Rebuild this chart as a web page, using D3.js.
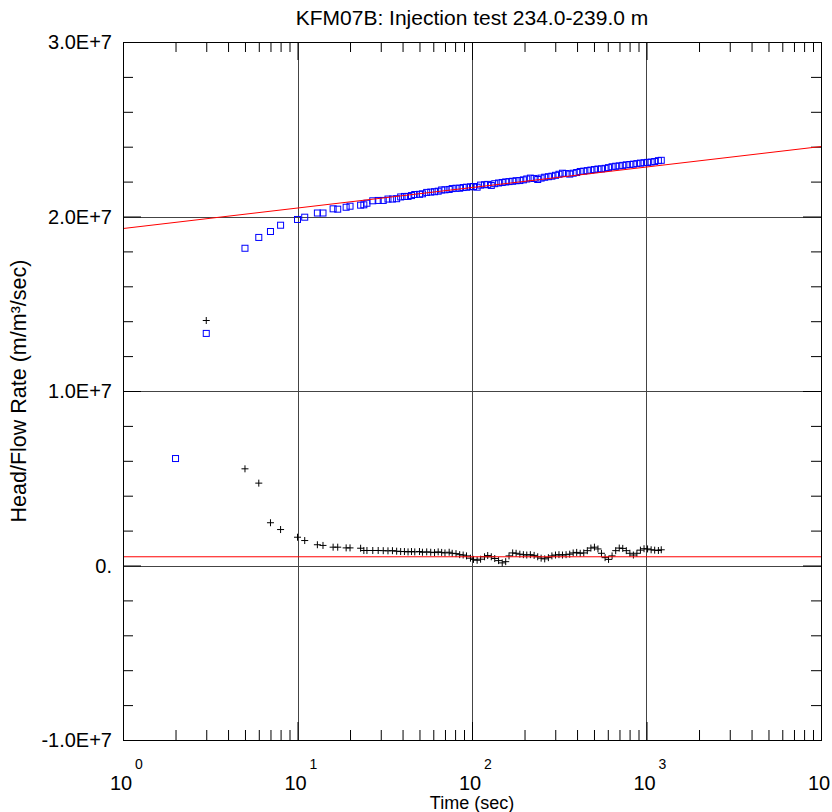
<!DOCTYPE html>
<html>
<head>
<meta charset="utf-8">
<script src="https://cdn.jsdelivr.net/npm/d3@7"></script>
<style>
  body { margin: 0; background: #fff; }
  text { font-family: "Liberation Sans", Arial, sans-serif; fill: #000; }
</style>
</head>
<body>
<div id="root"></div>
<script>
// sample times (sec), shared by both measured series
const times = [2, 3, 5, 6, 7, 8, 10, 11, 13, 14,
  16, 17, 19, 20, 23, 24, 25, 27, 29, 31,
  33, 35, 37, 39, 41, 43, 45, 47, 50, 52,
  55, 58, 61, 64, 67, 70, 74, 77, 81, 85,
  89, 93, 98, 102, 107, 112, 118, 123, 129, 135,
  142, 149, 156, 163, 171, 179, 188, 197, 206, 216,
  227, 238, 249, 261, 274, 287, 301, 315, 330, 346,
  363, 380, 398, 417, 437, 458, 480, 503, 527, 552,
  579, 606, 635, 666, 698, 731, 766, 803, 841, 881,
  923, 968, 1014, 1063, 1114, 1170, 1215];

// head / flow rate, millions of m/m3/sec (blue squares)
const headValues = [6.13, 13.3, 18.18, 18.8, 19.14, 19.5, 19.83, 19.96, 20.2, 20.2,
  20.44, 20.42, 20.53, 20.59, 20.65, 20.67, 20.76, 20.9, 20.92, 20.92,
  21.0, 21.0, 21.02, 21.12, 21.15, 21.15, 21.2, 21.26, 21.27, 21.3,
  21.38, 21.4, 21.42, 21.45, 21.52, 21.53, 21.55, 21.6, 21.62, 21.62,
  21.66, 21.68, 21.7, 21.72, 21.68, 21.8, 21.82, 21.84, 21.78, 21.88,
  21.92, 21.95, 21.98, 22.0, 22.02, 22.05, 22.06, 22.1, 22.15, 22.2,
  22.18, 22.12, 22.2, 22.25, 22.28, 22.31, 22.36, 22.42, 22.48, 22.46,
  22.43, 22.48, 22.52, 22.58, 22.6, 22.63, 22.66, 22.69, 22.72, 22.73,
  22.76, 22.8, 22.85, 22.88, 22.9, 22.93, 22.96, 22.98, 23.0, 23.03,
  23.06, 23.08, 23.1, 23.12, 23.15, 23.2, 23.22];

// derivative, millions (black crosses); null = no point
const derivValues = [null, 14.04, 5.54, 4.72, 2.45, 2.06, 1.62, 1.43, 1.19, 1.15,
  1.05, 1.05, 1.01, 1.01, 0.99, 0.86, 0.86, 0.86, 0.86, 0.85,
  0.84, 0.85, 0.82, 0.8, 0.8, 0.78, 0.8, 0.78, 0.8, 0.76,
  0.78, 0.76, 0.74, 0.78, 0.75, 0.72, 0.76, 0.7, 0.68, 0.62,
  0.6, 0.55, 0.42, 0.35, 0.3, 0.36, 0.5, 0.57, 0.5, 0.4,
  0.28, 0.15, 0.22, 0.55, 0.72, 0.7, 0.65, 0.62, 0.6, 0.62,
  0.58, 0.5, 0.42, 0.38, 0.45, 0.55, 0.6, 0.62, 0.6, 0.62,
  0.65, 0.72, 0.75, 0.7, 0.72, 0.85, 1.0, 1.05, 0.95, 0.7,
  0.45, 0.35, 0.55, 0.85, 1.0, 0.98, 0.85, 0.7, 0.6, 0.7,
  0.88, 0.96, 0.95, 0.9, 0.88, 0.86, 0.9];

// fitted lines (red)
const fitTimes = [1, 10000];
const fitValues = [19.31, 24.01];
const flatTimes = [1, 10000];
const flatValues = [0.5, 0.5];

const yMajor = [-10, 0, 10, 20, 30];
const yTickLabels = ["-1.0E+7", "0.", "1.0E+7", "2.0E+7", "3.0E+7"];
const xMajor = [1, 10, 100, 1000, 10000];
const xExponents = ["0", "1", "2", "3", "4"];

const margin = { top: 42, right: 11, bottom: 72, left: 123 };
const outerWidth = 832;
const outerHeight = 812;
const width = outerWidth - margin.left - margin.right;
const height = outerHeight - margin.top - margin.bottom;

const x = d3.scaleLog().domain([1, 10000]).range([0, width]);
const y = d3.scaleLinear().domain([-10, 30]).range([height, 0]);

const yMinor = d3.range(-10, 30.1, 2).filter(v => !yMajor.includes(v));
const xMinor = [];
[1, 10, 100, 1000].forEach(d => { for (let k = 2; k <= 9; k++) xMinor.push(d * k); });

const svg = d3.select("#root").append("svg")
  .attr("width", outerWidth)
  .attr("height", outerHeight);

svg.append("defs").append("clipPath").attr("id", "plot-clip")
  .append("rect").attr("width", width).attr("height", height);

const chart = svg.append("g")
  .attr("transform", `translate(${margin.left}, ${margin.top})`);

// grid
chart.selectAll(".hgrid").data(yMajor.filter(v => v > -10 && v < 30))
  .enter().append("line")
  .attr("x1", 0).attr("x2", width)
  .attr("y1", d => Math.round(y(d)) + 0.5).attr("y2", d => Math.round(y(d)) + 0.5)
  .attr("stroke", "#444").attr("stroke-width", 1);
chart.selectAll(".vgrid").data(xMajor.slice(1, 4))
  .enter().append("line")
  .attr("x1", d => Math.round(x(d)) + 0.5).attr("x2", d => Math.round(x(d)) + 0.5)
  .attr("y1", 0).attr("y2", height)
  .attr("stroke", "#444").attr("stroke-width", 1);

// ticks on all four sides, pointing inward
function ticks(axisFn, scale, values, size, transform) {
  const g = chart.append("g")
    .attr("transform", transform)
    .call(axisFn(scale).tickValues(values).tickSize(-size).tickFormat(""));
  g.select(".domain").remove();
  g.selectAll("line").attr("stroke", "#000");
}
ticks(d3.axisLeft, y, yMinor, 10, "translate(0,0)");
ticks(d3.axisLeft, y, yMajor, 18, "translate(0,0)");
ticks(d3.axisRight, y, yMinor, 10, `translate(${width},0)`);
ticks(d3.axisRight, y, yMajor, 18, `translate(${width},0)`);
ticks(d3.axisTop, x, xMinor, 10, "translate(0,0)");
ticks(d3.axisTop, x, xMajor, 18, "translate(0,0)");
ticks(d3.axisBottom, x, xMinor, 10, `translate(0,${height})`);
ticks(d3.axisBottom, x, xMajor, 18, `translate(0,${height})`);

const plot = chart.append("g").attr("clip-path", "url(#plot-clip)");

const headPoints = times.map((t, i) => ({ t: t, v: headValues[i] }));
const derivPoints = times.map((t, i) => ({ t: t, v: derivValues[i] })).filter(d => d.v !== null);

plot.selectAll(".head").data(headPoints)
  .enter().append("rect")
  .attr("class", "head")
  .attr("x", d => x(d.t) - 3).attr("y", d => y(d.v) - 3)
  .attr("width", 6).attr("height", 6)
  .attr("fill", "none").attr("stroke", "#0000ff").attr("stroke-width", 1);

plot.selectAll(".deriv").data(derivPoints)
  .enter().append("path")
  .attr("class", "deriv")
  .attr("transform", d => `translate(${x(d.t)},${y(d.v)})`)
  .attr("d", "M-3.5,0H3.5M0,-3.5V3.5")
  .attr("stroke", "#000").attr("stroke-width", 1);

const line = d3.line().x(d => x(d[0])).y(d => y(d[1]));
plot.append("path")
  .attr("d", line(fitTimes.map((t, i) => [t, fitValues[i]])))
  .attr("fill", "none").attr("stroke", "#ff0000").attr("stroke-width", 1);
plot.append("path")
  .attr("d", line(flatTimes.map((t, i) => [t, flatValues[i]])))
  .attr("fill", "none").attr("stroke", "#ff0000").attr("stroke-width", 1);

// frame
chart.append("rect")
  .attr("x", 0.5).attr("y", 0.5)
  .attr("width", width).attr("height", height)
  .attr("fill", "none").attr("stroke", "#000").attr("stroke-width", 1);

// labels
chart.selectAll(".ylabel").data(yMajor)
  .enter().append("text")
  .attr("x", -11).attr("y", d => y(d)).attr("dy", "0.36em")
  .attr("text-anchor", "end").style("font-size", "20px")
  .text((d, i) => yTickLabels[i]);

const xl = chart.selectAll(".xlabel").data(xMajor).enter().append("g")
  .attr("transform", d => `translate(${x(d)},${height})`);
xl.append("text").attr("x", -2).attr("y", 50)
  .attr("text-anchor", "middle").style("font-size", "20px").text("10");
// the last exponent falls past the page edge, as in the original
xl.filter(d => x(d) + 12 < width)
  .append("text").attr("x", 12).attr("y", 29)
  .attr("text-anchor", "start").style("font-size", "14px")
  .text(d => xExponents[xMajor.indexOf(d)]);

svg.append("text")
  .attr("x", margin.left + width / 2).attr("y", 809)
  .attr("text-anchor", "middle").style("font-size", "18px")
  .text("Time (sec)");

svg.append("text")
  .attr("transform", `translate(26, ${margin.top + height / 2}) rotate(-90)`)
  .attr("text-anchor", "middle").style("font-size", "21.5px")
  .text("Head/Flow Rate (m/m³/sec)");

svg.append("text")
  .attr("x", margin.left + width / 2).attr("y", 25)
  .attr("text-anchor", "middle").style("font-size", "21px")
  .text("KFM07B: Injection test 234.0-239.0 m");
</script>
</body>
</html>
